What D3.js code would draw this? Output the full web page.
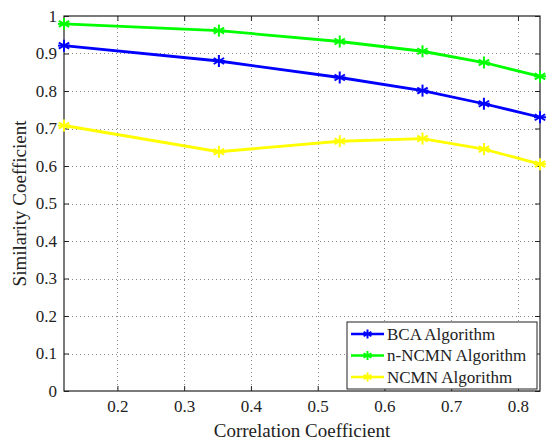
<!DOCTYPE html>
<html>
<head>
<meta charset="utf-8">
<script src="https://cdn.jsdelivr.net/npm/d3@7"></script>
<style>
  body { margin: 0; background: #fff; }
</style>
</head>
<body>
<div class="chart"></div>
<script>
const correlation = [0.12, 0.352, 0.533, 0.657, 0.749, 0.833];
const bcaValues = [0.921, 0.880, 0.836, 0.801, 0.766, 0.730];
const nNcmnValues = [0.979, 0.961, 0.932, 0.906, 0.876, 0.839];
const ncmnValues = [0.708, 0.638, 0.666, 0.673, 0.645, 0.605];
const seriesNames = ["BCA Algorithm", "n-NCMN Algorithm", "NCMN Algorithm"];
const seriesColors = ["#0000ff", "#00ff00", "#ffff00"];
const xTicks = [0.2, 0.3, 0.4, 0.5, 0.6, 0.7, 0.8];
const yTicks = [0, 0.1, 0.2, 0.3, 0.4, 0.5, 0.6, 0.7, 0.8, 0.9, 1];

const fontFamily = "'Liberation Serif', 'Times New Roman', 'DejaVu Serif', serif";

const width = 558;
const height = 441;
const margin = {top: 16, left: 64, bottom: 50, right: 18};

const svg = d3.select("div.chart").append("svg")
  .attr("width", width)
  .attr("height", height)
  .style("font-family", fontFamily);

const xScale = d3.scaleLinear()
  .domain([0.12, 0.833])
  .range([margin.left, width - margin.right]);
const yScale = d3.scaleLinear()
  .domain([0, 1])
  .range([height - margin.bottom, margin.top]);

const x0 = xScale.range()[0], x1 = xScale.range()[1];
const y0 = yScale.range()[0], y1 = yScale.range()[1];

// grid
const grid = svg.append("g").attr("class", "grid")
  .attr("stroke", "#888")
  .attr("stroke-width", 1)
  .attr("stroke-dasharray", "1,3");
grid.selectAll("line.gx")
  .data(xTicks)
  .enter().append("line")
  .attr("x1", (d) => Math.round(xScale(d)) + 0.5)
  .attr("x2", (d) => Math.round(xScale(d)) + 0.5)
  .attr("y1", y1).attr("y2", y0);
grid.selectAll("line.gy")
  .data(yTicks.filter((d) => d > 0 && d < 1))
  .enter().append("line")
  .attr("x1", x0).attr("x2", x1)
  .attr("y1", (d) => Math.round(yScale(d)) + 0.5)
  .attr("y2", (d) => Math.round(yScale(d)) + 0.5);

// axes, ticks inward on all four sides
const tickLen = 5;
const xAxis = d3.axisBottom(xScale).tickValues(xTicks).tickSize(-tickLen).tickPadding(9).tickFormat(d3.format(".1f"));
const xAxisTop = d3.axisTop(xScale).tickValues(xTicks).tickSize(-tickLen).tickFormat("");
const yAxis = d3.axisLeft(yScale).tickValues(yTicks).tickSize(-tickLen).tickPadding(7).tickFormat((d) => d === 0 || d === 1 ? d : d3.format(".1f")(d));
const yAxisRight = d3.axisRight(yScale).tickValues(yTicks).tickSize(-tickLen).tickFormat("");

const styleAxis = (g) => {
  g.attr("font-family", fontFamily).attr("font-size", 17);
  g.select(".domain").remove();
  g.selectAll(".tick line").attr("stroke", "#222");
  g.selectAll(".tick text").attr("fill", "#222");
};

svg.append("g").attr("transform", `translate(0, ${y0})`).call(xAxis).call(styleAxis);
svg.append("g").attr("transform", `translate(0, ${y1})`).call(xAxisTop).call(styleAxis);
svg.append("g").attr("transform", `translate(${x0}, 0)`).call(yAxis).call(styleAxis);
svg.append("g").attr("transform", `translate(${x1}, 0)`).call(yAxisRight).call(styleAxis);

svg.append("rect")
  .attr("x", x0).attr("y", y1)
  .attr("width", x1 - x0).attr("height", y0 - y1)
  .attr("fill", "none").attr("stroke", "#222").attr("stroke-width", 1.2);

// axis titles
svg.append("text")
  .attr("x", (x0 + x1) / 2)
  .attr("y", height - 4)
  .attr("text-anchor", "middle")
  .attr("font-size", 19)
  .attr("fill", "#222")
  .text("Correlation Coefficient");
svg.append("text")
  .attr("transform", `translate(26, ${(y0 + y1) / 2}) rotate(-90)`)
  .attr("text-anchor", "middle")
  .attr("font-size", 19)
  .attr("fill", "#222")
  .text("Similarity Coefficient");

// series
const series = [bcaValues, nNcmnValues, ncmnValues].map((values, i) => ({
  name: seriesNames[i],
  color: seriesColors[i],
  points: values.map((v, j) => ({x: correlation[j], y: v}))
}));

const line = d3.line()
  .x((d) => xScale(d.x))
  .y((d) => yScale(d.y));

const asterisk = (sel, r) => {
  [0, 60, 120].forEach((a) => {
    const rad = a * Math.PI / 180;
    sel.append("line")
      .attr("x1", -r * Math.sin(rad)).attr("y1", -r * Math.cos(rad))
      .attr("x2", r * Math.sin(rad)).attr("y2", r * Math.cos(rad));
  });
  sel.append("line").attr("x1", -r).attr("x2", r).attr("y1", 0).attr("y2", 0);
};

const chart = svg.append("g").attr("class", "chart");
series.forEach((s) => {
  chart.append("path")
    .datum(s.points)
    .attr("fill", "none")
    .attr("stroke", s.color)
    .attr("stroke-width", 2.8)
    .attr("d", line);
  chart.selectAll(null)
    .data(s.points)
    .enter().append("g")
    .attr("transform", (d) => `translate(${xScale(d.x)}, ${yScale(d.y)})`)
    .attr("stroke", s.color)
    .attr("stroke-width", 2)
    .each(function() { asterisk(d3.select(this), 6); });
});

// legend
const legend = svg.append("g").attr("transform", "translate(347, 322)");
legend.append("rect")
  .attr("width", 190).attr("height", 67)
  .attr("fill", "#fff").attr("stroke", "#222").attr("stroke-width", 1);
series.forEach((s, i) => {
  const gy = 12 + i * 21.5;
  legend.append("line")
    .attr("x1", 4).attr("x2", 37).attr("y1", gy).attr("y2", gy)
    .attr("stroke", s.color).attr("stroke-width", 2.5);
  const m = legend.append("g")
    .attr("transform", `translate(20.5, ${gy})`)
    .attr("stroke", s.color).attr("stroke-width", 2);
  asterisk(m, 4.5);
  legend.append("text")
    .attr("x", 40).attr("y", gy + 5.5)
    .attr("font-size", 17)
    .attr("fill", "#222")
    .text(s.name);
});
</script>
</body>
</html>
